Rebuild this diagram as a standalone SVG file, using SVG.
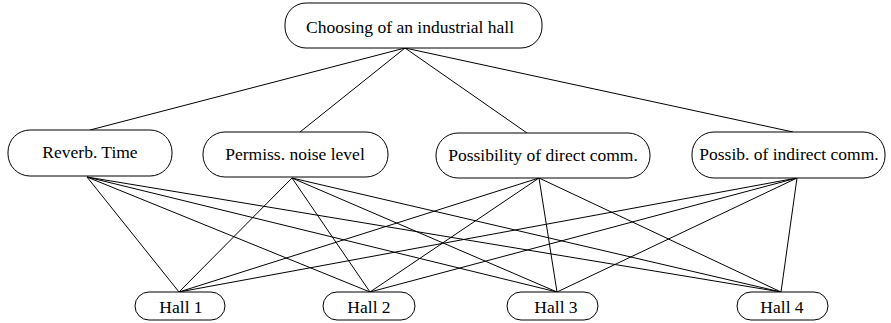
<svg xmlns="http://www.w3.org/2000/svg" width="891" height="323" viewBox="0 0 891 323">
<style>
.n{fill:#fff;stroke:#000;stroke-width:1}
text{font-family:'Liberation Serif','DejaVu Serif',serif;font-size:17.5px;fill:#000;text-anchor:middle}
.e line{stroke:#000;stroke-width:1}
</style>
<rect width="891" height="323" fill="#fff"/>
<g class="e" id="connectors">
<line x1="405" y1="48" x2="90" y2="130"/>
<line x1="405" y1="48" x2="300" y2="132"/>
<line x1="405" y1="48" x2="527" y2="133"/>
<line x1="405" y1="48" x2="793" y2="132"/>
<line x1="87" y1="177" x2="179" y2="292"/>
<line x1="87" y1="177" x2="370" y2="292"/>
<line x1="87" y1="177" x2="557" y2="292"/>
<line x1="87" y1="177" x2="781" y2="292"/>
<line x1="292" y1="178" x2="179" y2="292"/>
<line x1="292" y1="178" x2="370" y2="292"/>
<line x1="292" y1="178" x2="557" y2="292"/>
<line x1="292" y1="178" x2="781" y2="292"/>
<line x1="539" y1="178" x2="179" y2="292"/>
<line x1="539" y1="178" x2="370" y2="292"/>
<line x1="539" y1="178" x2="557" y2="292"/>
<line x1="539" y1="178" x2="781" y2="292"/>
<line x1="797" y1="178" x2="179" y2="292"/>
<line x1="797" y1="178" x2="370" y2="292"/>
<line x1="797" y1="178" x2="557" y2="292"/>
<line x1="797" y1="178" x2="781" y2="292"/>
</g>
<g font-family="Liberation Serif, DejaVu Serif, serif">
<g id="root"><rect class="n" x="285" y="3" width="257" height="45" rx="21" ry="21"/><text x="410" y="33">Choosing of an industrial hall</text></g>
<g id="reverb"><rect class="n" x="8" y="130" width="164" height="46" rx="22" ry="22"/><text x="90" y="158">Reverb. Time</text></g>
<g id="permiss"><rect class="n" x="203" y="132" width="185" height="45" rx="22" ry="22"/><text x="295" y="160">Permiss. noise level</text></g>
<g id="direct"><rect class="n" x="436" y="133" width="214" height="45" rx="22" ry="22"/><text x="543" y="161">Possibility of direct comm.</text></g>
<g id="indirect"><rect class="n" x="692" y="132" width="193" height="46" rx="22" ry="22"/><text x="789" y="160">Possib. of indirect comm.</text></g>
<g id="hall1"><rect class="n" x="135" y="292" width="90" height="28" rx="14" ry="14"/><text x="181" y="313">Hall 1</text></g>
<g id="hall2"><rect class="n" x="323" y="292" width="92" height="28" rx="14" ry="14"/><text x="369" y="313">Hall 2</text></g>
<g id="hall3"><rect class="n" x="507" y="292" width="91" height="28" rx="14" ry="14"/><text x="556" y="313">Hall 3</text></g>
<g id="hall4"><rect class="n" x="737" y="292" width="91" height="28" rx="14" ry="14"/><text x="782" y="313">Hall 4</text></g>
</g>
</svg>
